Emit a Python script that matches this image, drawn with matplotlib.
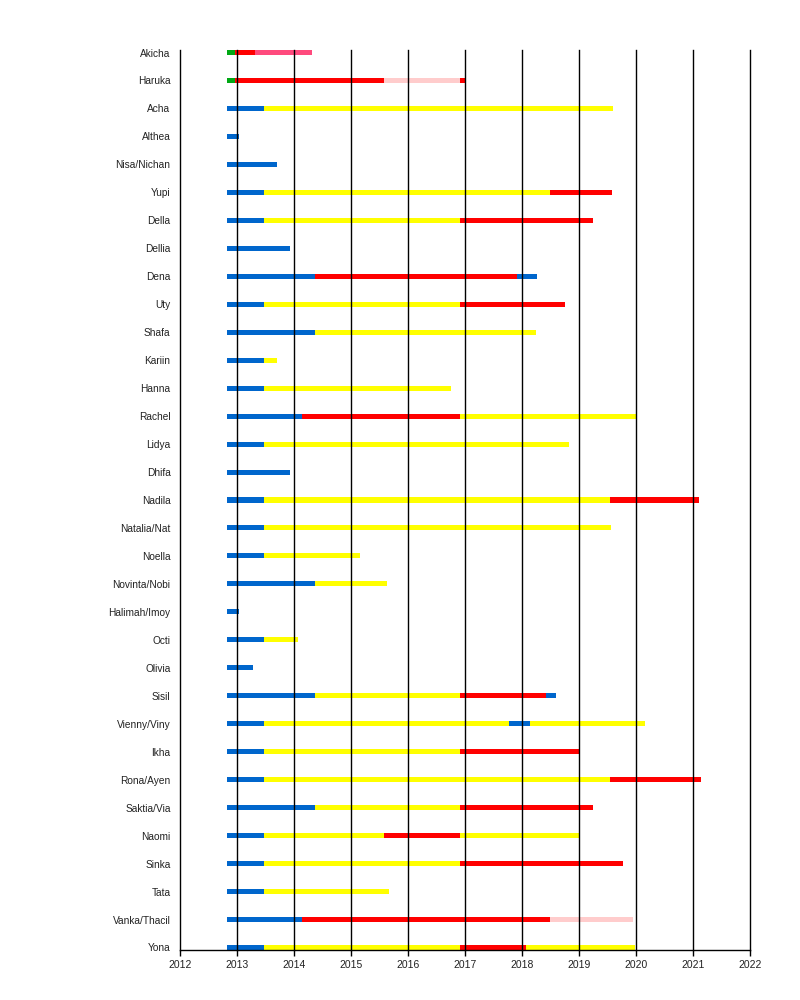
import matplotlib.pyplot as plt

plt.rcParams['font.family'] = ['Liberation Sans', 'DejaVu Sans']

members = ["Akicha", "Haruka", "Acha", "Althea", "Nisa/Nichan", "Yupi", "Della",
           "Dellia", "Dena", "Uty", "Shafa", "Kariin", "Hanna", "Rachel", "Lidya",
           "Dhifa", "Nadila", "Natalia/Nat", "Noella", "Novinta/Nobi", "Halimah/Imoy",
           "Octi", "Olivia", "Sisil", "Vienny/Viny", "Ikha", "Rona/Ayen", "Saktia/Via",
           "Naomi", "Sinka", "Tata", "Vanka/Thacil", "Yona"]

# change dates for each member (start, changes..., end)
dates = [
    [2012.82, 2012.96, 2013.31, 2014.31],
    [2012.82, 2012.96, 2015.57, 2016.91, 2017.0],
    [2012.82, 2013.47, 2019.59],
    [2012.82, 2013.03],
    [2012.82, 2013.70],
    [2012.82, 2013.47, 2018.49, 2019.58],
    [2012.82, 2013.47, 2016.91, 2019.24],
    [2012.82, 2013.92],
    [2012.82, 2014.36, 2017.91, 2018.26],
    [2012.82, 2013.47, 2016.91, 2018.75],
    [2012.82, 2014.36, 2018.24],
    [2012.82, 2013.47, 2013.70],
    [2012.82, 2013.47, 2016.75],
    [2012.82, 2014.14, 2016.91, 2020.01],
    [2012.82, 2013.47, 2018.82],
    [2012.82, 2013.92],
    [2012.82, 2013.47, 2019.54, 2021.10],
    [2012.82, 2013.47, 2019.56],
    [2012.82, 2013.47, 2015.15],
    [2012.82, 2014.36, 2015.63],
    [2012.82, 2013.03],
    [2012.82, 2013.47, 2014.06],
    [2012.82, 2013.28],
    [2012.82, 2014.36, 2016.91, 2018.42, 2018.59],
    [2012.82, 2013.47, 2017.77, 2018.13, 2020.15],
    [2012.82, 2013.47, 2016.91, 2019.0],
    [2012.82, 2013.47, 2019.54, 2021.13],
    [2012.82, 2014.36, 2016.91, 2019.24],
    [2012.82, 2013.47, 2015.57, 2016.91, 2019.0],
    [2012.82, 2013.47, 2016.91, 2019.77],
    [2012.82, 2013.47, 2015.66],
    [2012.82, 2014.14, 2018.49, 2019.94],
    [2012.82, 2013.47, 2016.91, 2018.07, 2019.98],
]

# status of each period between the dates above
status = [
    ["G", "R", "P"],
    ["G", "R", "L", "R"],
    ["B", "Y"],
    ["B"],
    ["B"],
    ["B", "Y", "R"],
    ["B", "Y", "R"],
    ["B"],
    ["B", "R", "B"],
    ["B", "Y", "R"],
    ["B", "Y"],
    ["B", "Y"],
    ["B", "Y"],
    ["B", "R", "Y"],
    ["B", "Y"],
    ["B"],
    ["B", "Y", "R"],
    ["B", "Y"],
    ["B", "Y"],
    ["B", "Y"],
    ["B"],
    ["B", "Y"],
    ["B"],
    ["B", "Y", "R", "B"],
    ["B", "Y", "B", "Y"],
    ["B", "Y", "R"],
    ["B", "Y", "R"],
    ["B", "Y", "R"],
    ["B", "Y", "R", "Y"],
    ["B", "Y", "R"],
    ["B", "Y"],
    ["B", "R", "L"],
    ["B", "Y", "R", "Y"],
]

colors = {"G": "#00a814", "R": "#ff0000", "P": "#ff4a7d", "L": "#ffcccc",
          "B": "#0066cc", "Y": "#ffff00"}

years = list(range(2012, 2023))

fig = plt.figure(figsize=(8, 10), dpi=100)
ax = fig.add_axes([0.2254, 0.05, 0.7125, 0.90])

n = len(members)
h = 0.18
for i in range(n):
    y = n - 1 - i
    d = dates[i]
    for j in range(len(status[i])):
        ax.barh(y, d[j + 1] - d[j], left=d[j], height=h,
                color=colors[status[i][j]], linewidth=0, zorder=1)

ax.set_xlim(2012, 2022)
ax.set_ylim(-h / 2, n - 1 + h / 2)
ax.set_xticks(years)
ax.set_xticklabels([str(y) for y in years], fontsize=7.5, color='#222222')
ax.set_yticks(range(n))
ax.set_yticklabels(members[::-1], fontsize=7.3, color='#222222')
ax.tick_params(axis='y', length=0, pad=7)
ax.tick_params(axis='x', length=4, width=1, pad=3)
for y in years:
    ax.axvline(y, color='black', linewidth=1, zorder=2, clip_on=False)
for s in ['top', 'right', 'left']:
    ax.spines[s].set_visible(False)
ax.spines['bottom'].set_linewidth(1)

fig.savefig("out.png", dpi=100)
